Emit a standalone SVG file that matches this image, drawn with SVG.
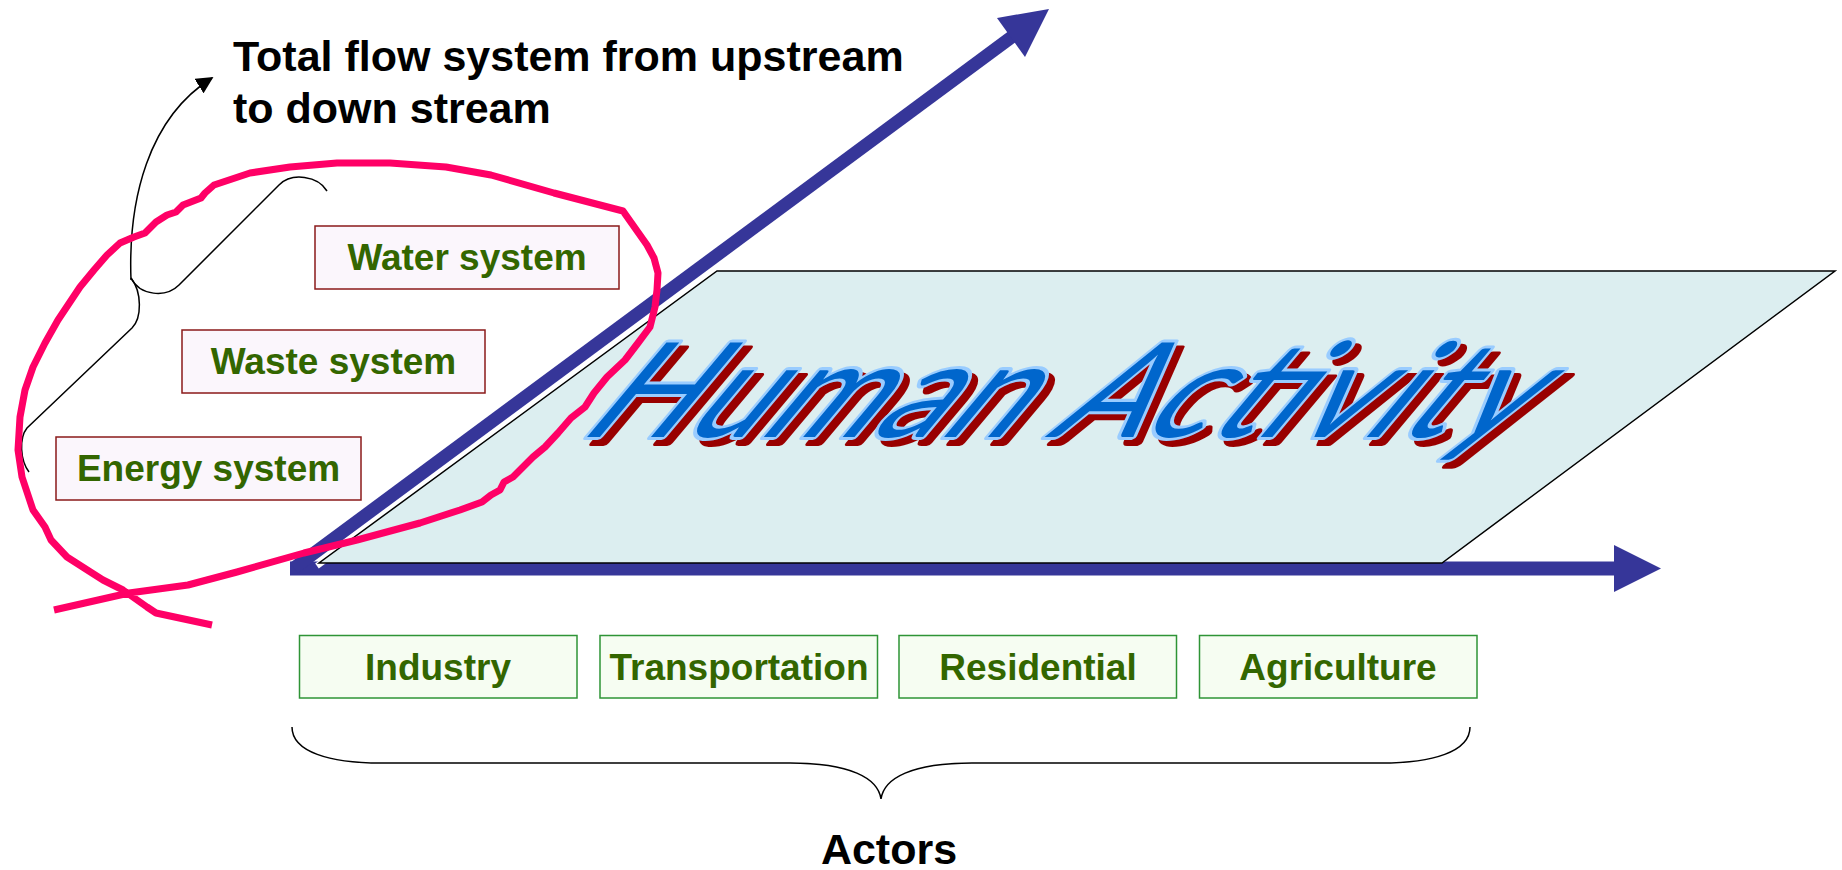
<svg xmlns="http://www.w3.org/2000/svg" width="1842" height="870" viewBox="0 0 1842 870">
  <defs>
    <marker id="tipBlack" viewBox="0 0 10 10" refX="9" refY="5" markerWidth="17" markerHeight="17" markerUnits="userSpaceOnUse" orient="auto">
      <path d="M0,0 L10,5 L0,10 z" fill="#000"/>
    </marker>
    <style>
      .sys rect { fill: #FBF6FC; stroke: #8B1A1A; stroke-width: 1.5; }
      .act rect { fill: #F6FDF2; stroke: #2E9436; stroke-width: 1.5; }
      .lbl { font-family: "Liberation Sans", Arial, sans-serif; font-weight: bold; font-size: 37px; fill: #336600; text-anchor: middle; }
      .head { font-family: "Liberation Sans", Arial, sans-serif; font-weight: bold; font-size: 43px; fill: #000; }
      .axis { stroke: #363699; fill: none; stroke-linecap: butt; }
      .axhead { fill: #363699; }
      .thin { stroke: #000; stroke-width: 1.5; fill: none; }
      .ha { font-family: Lato, "Liberation Sans", sans-serif; font-weight: 400; font-size: 132px; stroke-width: 6; stroke-linejoin: round; paint-order: stroke; }
    </style>
  </defs>

  <rect width="1842" height="870" fill="#fff"/>

  <!-- axes -->
  <g id="connectors">
    <line class="axis" x1="290" y1="568.5" x2="1616" y2="568.5" stroke-width="14"/>
    <polygon class="axhead" points="1614,545 1661,568.5 1614,592"/>
    <line class="axis" x1="294" y1="568" x2="1013" y2="36" stroke-width="13"/>
    <polygon class="axhead" points="1049,9 997,18 1025,57"/>
  </g>

  <!-- activity plane -->
  <g id="plane">
    <line x1="317" y1="566" x2="716" y2="271" stroke="#fff" stroke-width="6"/>
    <polygon points="717,271 1835,271 1442,563 319,563" fill="#DCEEF0" stroke="#000" stroke-width="1.5" stroke-linejoin="miter"/>
    <g transform="translate(589,443) skewX(-40)">
      <text class="ha" x="-8" y="0" textLength="935" lengthAdjust="spacing" fill="#990000" stroke="#990000">Human Activity</text>
    </g>
    <g transform="translate(583,437) skewX(-40)">
      <text class="ha" x="-8" y="0" textLength="935" lengthAdjust="spacing" fill="#0066CC" stroke="#99CCFF">Human Activity</text>
    </g>
  </g>

  <!-- flow systems -->
  <g id="water" class="sys">
    <rect x="315" y="226" width="304" height="63"/>
    <text class="lbl" x="467" y="270">Water system</text>
  </g>
  <g id="waste" class="sys">
    <rect x="182" y="330" width="303" height="63"/>
    <text class="lbl" x="333.5" y="374">Waste system</text>
  </g>
  <g id="energy" class="sys">
    <rect x="56" y="437" width="305" height="63"/>
    <text class="lbl" x="208.5" y="481">Energy system</text>
  </g>

  <!-- actors -->
  <g id="industry" class="act">
    <rect x="299.5" y="635.5" width="277.5" height="62.5"/>
    <text class="lbl" x="438" y="680">Industry</text>
  </g>
  <g id="transportation" class="act">
    <rect x="600" y="635.5" width="277.5" height="62.5"/>
    <text class="lbl" x="739" y="680">Transportation</text>
  </g>
  <g id="residential" class="act">
    <rect x="899" y="635.5" width="277.5" height="62.5"/>
    <text class="lbl" x="1038" y="680">Residential</text>
  </g>
  <g id="agriculture" class="act">
    <rect x="1199.5" y="635.5" width="277.5" height="62.5"/>
    <text class="lbl" x="1338" y="680">Agriculture</text>
  </g>

  <!-- braces and callout -->
  <g id="annotations">
    <path class="thin" d="M327,191 C318,176 292,172 279,185 L179,285 C166,298 140,296 131,278"/>
    <path class="thin" d="M131,278 C142,292 142,318 132,328 L27,428 C19,438 20,460 29,472"/>
    <path class="thin" d="M131,280 C128,200 148,118 212,78" marker-end="url(#tipBlack)"/>
    <path class="thin" d="M292,727 C292,752 330,763 380,763 L790,763 C850,763 878,778 881,799 C884,778 912,763 972,763 L1382,763 C1432,763 1470,752 1470,727"/>
  </g>

  <g id="title">
    <text class="head" x="233" y="71">Total flow system from upstream</text>
    <text class="head" x="233" y="123">to down stream</text>
  </g>
  <g id="actors-label">
    <text class="head" x="889" y="864" text-anchor="middle">Actors</text>
  </g>

  <!-- hand-drawn loop around the flow systems -->
  <polyline fill="none" stroke="#FF0066" stroke-width="7" stroke-linejoin="round" stroke-linecap="butt"
    points="54,610 129,593 188,585 237,572 304,553 357,540 420,523 460,510 482,502 491,495 500,490 504,482 513,477 522,468 533,457 545,447 558,433 571,418 585,407 594,393 607,377 625,360 638,343 650,327 655,307 657,290 658,273 654,258 647,245 623,211 554,193 491,175 446,167 390,163 337,163 290,167 250,173 214,185 205,193 201,198 183,205 176,212 167,215 156,222 145,233 134,237 120,243 107,255 94,270 80,287 70,302 58,320 45,343 33,367 25,390 20,417 18,450 22,477 33,510 45,527 51,540 67,557 92,573 103,580 123,590 147,607 156,613 212,625"/>
</svg>
